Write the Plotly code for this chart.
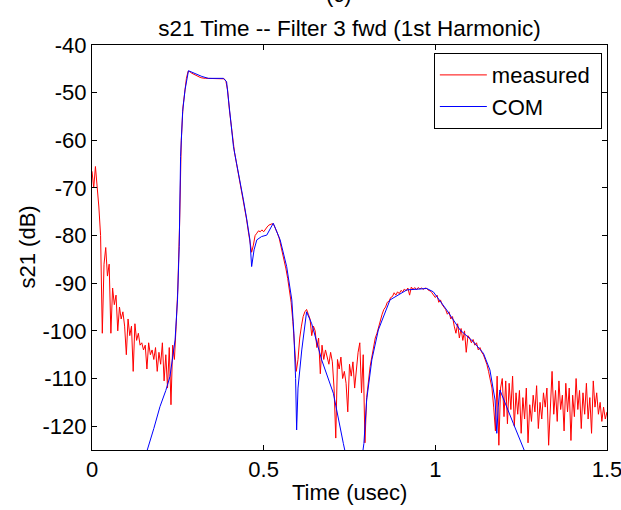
import numpy as np
import plotly.graph_objects as go

# ---- data ----
meas_step = 0.005  # usec, sampling of the measured trace
meas_db = [
    -66.5, -70.0, -65.5, -69.5, -74.0, -80.0, -100.5, -86.0, -82.5, -88.5,
    -86.0, -100.5, -91.0, -94.5, -92.5, -100.0, -95.0, -97.5, -96.0, -99.0,
    -105.0, -97.5, -101.0, -99.0, -108.5, -98.5, -102.0, -100.5, -103.0, -102.5,
    -104.0, -103.0, -108.0, -102.5, -105.0, -104.0, -106.0, -103.5, -108.5, -104.5,
    -107.0, -102.5, -110.5, -105.0, -112.0, -103.5, -115.5, -103.0, -106.0, -99.0,
    -91.0, -78.0, -60.0, -53.0, -49.5, -47.0, -45.5, -45.6, -45.9, -46.1,
    -46.3, -46.5, -46.6, -46.8, -46.9, -47.0, -47.0, -47.0, -47.0, -47.0,
    -47.0, -47.0, -47.0, -47.0, -47.0, -47.0, -47.0, -47.1, -47.6, -49.5,
    -53.5, -57.0, -60.5, -62.5, -64.5, -66.5, -68.0, -70.5, -72.0, -74.5,
    -76.5, -79.0, -81.5, -83.5, -82.0, -80.0, -79.5, -79.0, -79.2, -78.8,
    -79.2, -78.6, -78.2, -77.8, -77.6, -77.5, -77.8, -78.5, -79.5, -80.5,
    -82.0, -83.5, -85.0, -87.0, -89.0, -91.5, -94.0, -98.0, -103.0, -108.5,
    -106.0, -101.5, -99.0, -97.0, -96.0, -95.5, -96.5, -97.5, -101.0, -99.0,
    -100.0, -103.5, -101.5, -109.0, -103.0, -106.0, -104.0, -105.5, -107.0, -104.5,
    -106.5, -112.0, -122.5, -106.0, -108.0, -105.5, -110.0, -108.5, -111.0, -117.0,
    -107.0, -109.5, -106.5, -112.0, -107.5, -104.5, -102.5, -113.0, -105.0, -123.5,
    -114.0, -110.5, -107.5, -105.5, -103.5, -101.5, -100.5, -99.0, -97.5, -96.5,
    -95.5, -95.0, -94.0, -93.8, -93.0, -92.8, -92.0, -92.5, -91.8, -92.2,
    -91.5, -91.8, -91.2, -91.6, -91.0, -92.5, -90.8, -91.3, -90.9, -91.4,
    -90.9, -91.2, -91.0, -91.3, -91.0, -91.1, -91.5, -91.6, -92.0, -92.5,
    -93.0, -92.5, -94.0, -93.5, -94.5, -95.0, -95.5, -96.5, -96.0, -97.5,
    -97.0, -99.0, -100.5, -98.5, -101.5, -99.5, -102.0, -100.0, -104.5, -101.0,
    -101.5, -102.5, -101.8, -103.0, -102.5, -104.0, -103.5, -104.5, -105.0, -106.0,
    -107.0, -108.5, -110.0, -112.0, -116.0, -121.0, -109.5, -124.0, -112.0, -110.0,
    -118.0, -110.5, -119.5, -111.0, -116.5, -109.5, -120.0, -113.0, -117.5, -112.5,
    -121.5, -114.0, -118.5, -112.0, -123.5, -115.5, -119.0, -113.5, -117.0, -111.5,
    -120.5, -115.0, -118.5, -113.0, -116.0, -112.0, -124.0, -114.5, -108.5, -117.5,
    -112.5, -119.0, -110.5, -116.5, -113.5, -121.0, -111.0, -117.0, -112.0, -123.0,
    -113.5, -118.0, -110.0, -116.5, -112.5, -120.5, -113.0, -117.5, -111.0, -118.5,
    -114.0, -121.5, -110.5, -116.0, -113.0, -117.5, -115.0, -119.0, -116.0, -118.5,
    -117.0,
]
meas_t = np.round(np.arange(len(meas_db)) * meas_step, 3)

com_t = [0.14, 0.161, 0.18, 0.198, 0.215, 0.227, 0.242, 0.249, 0.254, 0.258,
         0.264, 0.271, 0.281, 0.30, 0.32, 0.339, 0.36, 0.383, 0.392, 0.397,
         0.402, 0.407, 0.412, 0.421, 0.431, 0.441, 0.451, 0.460, 0.465, 0.472,
         0.480, 0.494, 0.509, 0.528, 0.548, 0.567, 0.582, 0.588, 0.593, 0.596,
         0.600, 0.611, 0.625, 0.640, 0.669, 0.703, 0.732, 0.745, 0.78, 0.792,
         0.800, 0.815, 0.834, 0.868, 0.917, 0.975, 0.994, 1.033, 1.072, 1.111,
         1.140, 1.159, 1.174, 1.179, 1.183, 1.188, 1.227, 1.256, 1.27]
com_db = [-129, -125, -120.5, -115.9, -112.5, -109.6, -101.9, -93.5, -82.3, -63.4,
          -54.0, -49.4, -45.4, -46.0, -46.6, -47.0, -47.0, -47.0, -47.7, -51.5,
          -55.0, -58.5, -61.3, -64.8, -68.3, -72.5, -76.7, -80.9, -86.5, -83.0,
          -80.9, -80.2, -79.9, -77.4, -80.9, -86.5, -93.5, -100.5, -110.0, -120.8,
          -112.0, -104.0, -96.0, -98.5, -106.1, -113.1, -123.6, -128.0, -130.0, -123.6,
          -114.5, -106.1, -99.8, -93.5, -91.4, -91.1, -91.8, -95.6, -99.8, -102.3,
          -104.7, -108.2, -114.5, -121.5, -116.0, -112.4, -119.4, -124.3, -127.0]

x_ticks = [0, 0.5, 1, 1.5]
x_ticklabels = ["0", "0.5", "1", "1.5"]
y_ticks = [-40, -50, -60, -70, -80, -90, -100, -110, -120]
y_ticklabels = ["-40", "-50", "-60", "-70", "-80", "-90", "-100", "-110", "-120"]

FONT = "Liberation Sans, Arial, sans-serif"

fig = go.Figure()
fig.add_trace(go.Scatter(x=meas_t, y=meas_db, mode="lines", name="measured&nbsp;",
                         line=dict(color="rgb(255,0,0)", width=1)))
fig.add_trace(go.Scatter(x=com_t, y=com_db, mode="lines", name="COM",
                         line=dict(color="rgb(0,0,255)", width=1)))

axis_common = dict(showline=True, linecolor="black", linewidth=1, mirror="ticks",
                   ticks="inside", ticklen=5, tickcolor="black", showgrid=False,
                   zeroline=False, automargin=False, ticklabeloverflow="allow",
                   tickfont=dict(family=FONT, size=22, color="black"))

fig.update_layout(
    width=621, height=510,
    margin=dict(l=92, r=14, t=45, b=60, autoexpand=False),
    paper_bgcolor="white", plot_bgcolor="white",
    font=dict(family=FONT, size=22, color="black"),
    title=dict(text="s21 Time -- Filter 3 fwd (1st Harmonic)", x=0.5, xref="paper",
               y=1 - 28 / 510, yanchor="middle", xanchor="center",
               font=dict(family=FONT, size=22.5, color="black")),
    xaxis=dict(range=[0, 1.5], tickvals=x_ticks, ticktext=x_ticklabels, **axis_common),
    yaxis=dict(range=[-125, -40], tickvals=y_ticks, ticktext=y_ticklabels, **axis_common),
    legend=dict(x=0.99, y=0.98, xanchor="right", yanchor="top",
                bordercolor="black", borderwidth=1, bgcolor="white",
                font=dict(family=FONT, size=22, color="black"),
                tracegroupgap=0, itemwidth=47),
    showlegend=True,
    annotations=[
        dict(text="Time (usec)", xref="paper", yref="paper", x=0.5, y=-0.106,
             xanchor="center", yanchor="middle", showarrow=False,
             font=dict(family=FONT, size=22, color="black")),
        dict(text="s21 (dB)", xref="paper", yref="paper", x=(27 - 92) / 515, y=0.5,
             xanchor="center", yanchor="middle", textangle=-90, showarrow=False,
             font=dict(family=FONT, size=22, color="black")),
        dict(text="(c)", xref="paper", yref="paper", x=(339 - 92) / 515,
             y=(450 - 9) / 405, xanchor="center", yanchor="bottom", showarrow=False,
             font=dict(family=FONT, size=22, color="black")),
    ],
)

fig.write_html("out.html", config={"displayModeBar": False},
               post_script="document.body.style.margin='0';")
